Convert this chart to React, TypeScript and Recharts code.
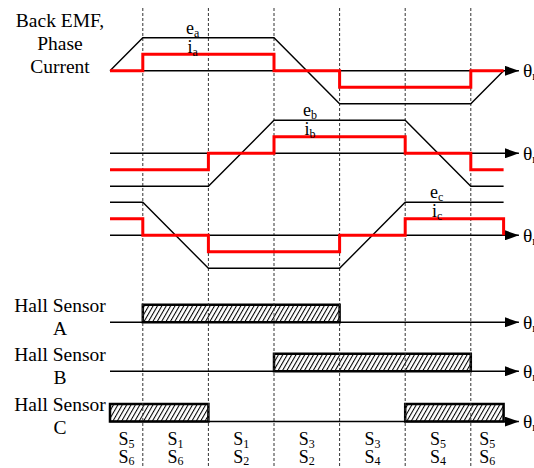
import React from "react";
import { ComposedChart, Line, XAxis, YAxis, ReferenceLine, ReferenceArea } from "recharts";

// sector boundaries and commutation labels (rotor angle, deg)
const SECTOR_EDGES = [30, 90, 150, 210, 270, 330];
const SECTOR_MIDS = [15, 60, 120, 180, 240, 300, 345];
const SWITCH_UPPER = ["5", "1", "1", "3", "3", "5", "5"];
const SWITCH_LOWER = ["6", "6", "2", "2", "4", "4", "6"];

// back EMF corners, normalised to ±1
const EMF_A_DEG = [0, 30, 150, 210, 330, 360];
const EMF_A = [0, 1, 1, -1, -1, 0];
const EMF_B_DEG = [0, 90, 150, 270, 330, 360];
const EMF_B = [-1, -1, 1, 1, -1, -1];
const EMF_C_DEG = [0, 30, 90, 210, 270, 360];
const EMF_C = [1, 1, -1, -1, 1, 1];

// phase currents, stepped
const CUR_A_DEG = [0, 30, 150, 210, 330, 360];
const CUR_A = [0, 0.5, 0, -0.5, 0, 0];
const CUR_B_DEG = [0, 90, 150, 270, 330, 360];
const CUR_B = [-0.5, 0, 0.5, 0, -0.5, -0.5];
const CUR_C_DEG = [0, 30, 90, 210, 270, 360];
const CUR_C = [0.5, 0, -0.5, 0, 0.5, 0];

// hall sensor "high" intervals
const HALL_A = [[30, 210]];
const HALL_B = [[150, 330]];
const HALL_C = [[0, 90], [270, 360]];

const W = 534;
const H = 468;
const PLOT_LEFT = 110;
const PLOT_RIGHT = 503.6;
const PLOT_TOP = 10;
const PLOT_BOTTOM = 422;
const AXIS_TIP_DEG = 374; // where the θr arrows end
const FONT = "'Liberation Serif', 'DejaVu Serif', 'Times New Roman', serif";
const serif = { fontFamily: FONT };

const EMF_UNIT = 33;
const HALL_UNIT = 17.5;
const ROWS: Record<string, { zero: number; unit: number }> = {
  a: { zero: 70.8, unit: EMF_UNIT },
  b: { zero: 153.3, unit: EMF_UNIT },
  c: { zero: 235.3, unit: EMF_UNIT },
  ha: { zero: 322.3, unit: HALL_UNIT },
  hb: { zero: 371.3, unit: HALL_UNIT },
  hc: { zero: 421.6, unit: HALL_UNIT },
};
const HALL_ROWS = ["ha", "hb", "hc"];

const rowDomain = (id: string): [number, number] => {
  const r = ROWS[id];
  return [(r.zero - PLOT_BOTTOM) / r.unit, (r.zero - PLOT_TOP) / r.unit];
};
const frameY = (px: number) => (PLOT_BOTTOM - px) / (PLOT_BOTTOM - PLOT_TOP);
const zip = (deg: number[], v: number[]) => deg.map((d, i) => ({ deg: d, v: v[i] }));

function SwitchTick(props: any) {
  const { x, y, index } = props;
  return (
    <g style={serif} fill="#000">
      <text x={x} y={y + 23} textAnchor="middle" fontSize={18} style={serif}>
        S<tspan fontSize={12} dy={2.5}>{SWITCH_UPPER[index]}</tspan>
      </text>
      <text x={x} y={y + 40.5} textAnchor="middle" fontSize={18} style={serif}>
        S<tspan fontSize={12} dy={2.5}>{SWITCH_LOWER[index]}</tspan>
      </text>
    </g>
  );
}

function Sub({ x, y, main, sub, size = 18 }: { x: number; y: number; main: string; sub: string; size?: number }) {
  return (
    <text x={x} y={y} fontSize={size} style={serif}>
      {main}
      <tspan fontSize={12} dy={3}>{sub}</tspan>
    </text>
  );
}

export default function App() {
  const emf = [
    { id: "a", deg: EMF_A_DEG, v: EMF_A },
    { id: "b", deg: EMF_B_DEG, v: EMF_B },
    { id: "c", deg: EMF_C_DEG, v: EMF_C },
  ];
  const cur = [
    { id: "a", deg: CUR_A_DEG, v: CUR_A },
    { id: "b", deg: CUR_B_DEG, v: CUR_B },
    { id: "c", deg: CUR_C_DEG, v: CUR_C },
  ];
  const halls = [
    { id: "ha", spans: HALL_A },
    { id: "hb", spans: HALL_B },
    { id: "hc", spans: HALL_C },
  ];

  return (
    <div style={{ position: "absolute", left: 0, top: 0, width: W, height: H, overflow: "hidden", background: "#fff" }}>
      <svg width={0} height={0} style={{ position: "absolute" }}>
        <defs>
          <marker id="arrowRight" viewBox="0 0 14 10" refX={14} refY={5} markerWidth={14} markerHeight={10} markerUnits="userSpaceOnUse" orient="auto">
            <path d="M0,0 L14,5 L0,10 z" fill="#000" />
          </marker>
          <marker id="arrowUp" viewBox="0 0 15 10" refX={15} refY={5} markerWidth={15} markerHeight={10} markerUnits="userSpaceOnUse" orient="auto-start-reverse">
            <path d="M0,0.5 L15,5 L0,9.5 z" fill="#000" />
          </marker>
          <pattern id="hatch" width={3.8} height={3.8} patternUnits="userSpaceOnUse" patternTransform="rotate(30)">
            <rect width={3.8} height={3.8} fill="#fff" />
            <line x1={0} y1={0} x2={0} y2={3.8} stroke="#000" strokeWidth={2.1} />
          </pattern>
        </defs>
      </svg>

      <ComposedChart
        width={W}
        height={H}
        margin={{ top: PLOT_TOP, right: W - PLOT_RIGHT, bottom: 0, left: PLOT_LEFT - 10 }}
      >
        <XAxis
          dataKey="deg"
          type="number"
          domain={[0, 360]}
          ticks={SECTOR_MIDS}
          interval={0}
          height={H - PLOT_BOTTOM}
          axisLine={false}
          tickLine={false}
          tickSize={0}
          tickMargin={0}
          tick={<SwitchTick />}
        />
        <YAxis
          yAxisId="frame"
          type="number"
          domain={[0, 1]}
          allowDataOverflow
          width={10}
          tick={false}
          tickLine={false}
          axisLine={{ stroke: "#000", strokeWidth: 2.2, markerStart: "url(#arrowUp)" }}
        />
        {Object.keys(ROWS).map((id) => (
          <YAxis
            key={id}
            yAxisId={id}
            type="number"
            hide
            domain={rowDomain(id)}
            allowDataOverflow={HALL_ROWS.includes(id)}
          />
        ))}

        {SECTOR_EDGES.map((d) => (
          <ReferenceLine
            key={`edge-${d}`}
            yAxisId="frame"
            ifOverflow="visible"
            segment={[{ x: d, y: frameY(8) }, { x: d, y: frameY(H) }]}
            stroke="#333"
            strokeWidth={1}
            strokeDasharray="3 2"
          />
        ))}

        {Object.keys(ROWS).map((id) => (
          <ReferenceLine
            key={`zero-${id}`}
            yAxisId={id}
            ifOverflow="visible"
            segment={[{ x: 0, y: 0 }, { x: AXIS_TIP_DEG, y: 0 }]}
            stroke="#000"
            strokeWidth={1.5}
            markerEnd="url(#arrowRight)"
          />
        ))}

        {halls.map((h) =>
          h.spans.map(([x1, x2]) => (
            <ReferenceArea
              key={`${h.id}-${x1}`}
              yAxisId={h.id}
              x1={x1}
              x2={x2}
              y1={0}
              y2={1}
              ifOverflow="visible"
              fill="url(#hatch)"
              fillOpacity={1}
              stroke="#000"
              strokeWidth={2.5}
            />
          ))
        )}

        {emf.map((e) => (
          <Line
            key={`emf-${e.id}`}
            yAxisId={e.id}
            data={zip(e.deg, e.v)}
            dataKey="v"
            type="linear"
            stroke="#000"
            strokeWidth={1.4}
            dot={false}
            activeDot={false}
            isAnimationActive={false}
          />
        ))}
        {cur.map((c) => (
          <Line
            key={`cur-${c.id}`}
            yAxisId={c.id}
            data={zip(c.deg, c.v)}
            dataKey="v"
            type="stepAfter"
            stroke="#ff0000"
            strokeWidth={3}
            dot={false}
            activeDot={false}
            isAnimationActive={false}
          />
        ))}
      </ComposedChart>

      <svg
        width={W}
        height={H}
        style={{ position: "absolute", left: 0, top: 0, pointerEvents: "none", ...serif }}
        fill="#000"
      >
        <g fontSize={19.5} textAnchor="middle" style={serif}>
          <text x={60} y={27}>Back EMF,</text>
          <text x={60} y={50}>Phase</text>
          <text x={60} y={73}>Current</text>
          <text x={60} y={311.5}>Hall Sensor</text>
          <text x={60} y={335}>A</text>
          <text x={60} y={361}>Hall Sensor</text>
          <text x={60} y={384}>B</text>
          <text x={60} y={410.5}>Hall Sensor</text>
          <text x={60} y={434}>C</text>
        </g>

        <Sub x={186} y={34} main="e" sub="a" />
        <Sub x={187.5} y={52.5} main="i" sub="a" />
        <Sub x={303} y={115.5} main="e" sub="b" />
        <Sub x={304.5} y={134.5} main="i" sub="b" />
        <Sub x={430} y={198} main="e" sub="c" />
        <Sub x={432} y={217} main="i" sub="c" />

        {Object.keys(ROWS).map((id) => (
          <Sub key={`th-${id}`} x={523} y={ROWS[id].zero + 6.5} main="θ" sub="r" size={19.5} />
        ))}
      </svg>
    </div>
  );
}
